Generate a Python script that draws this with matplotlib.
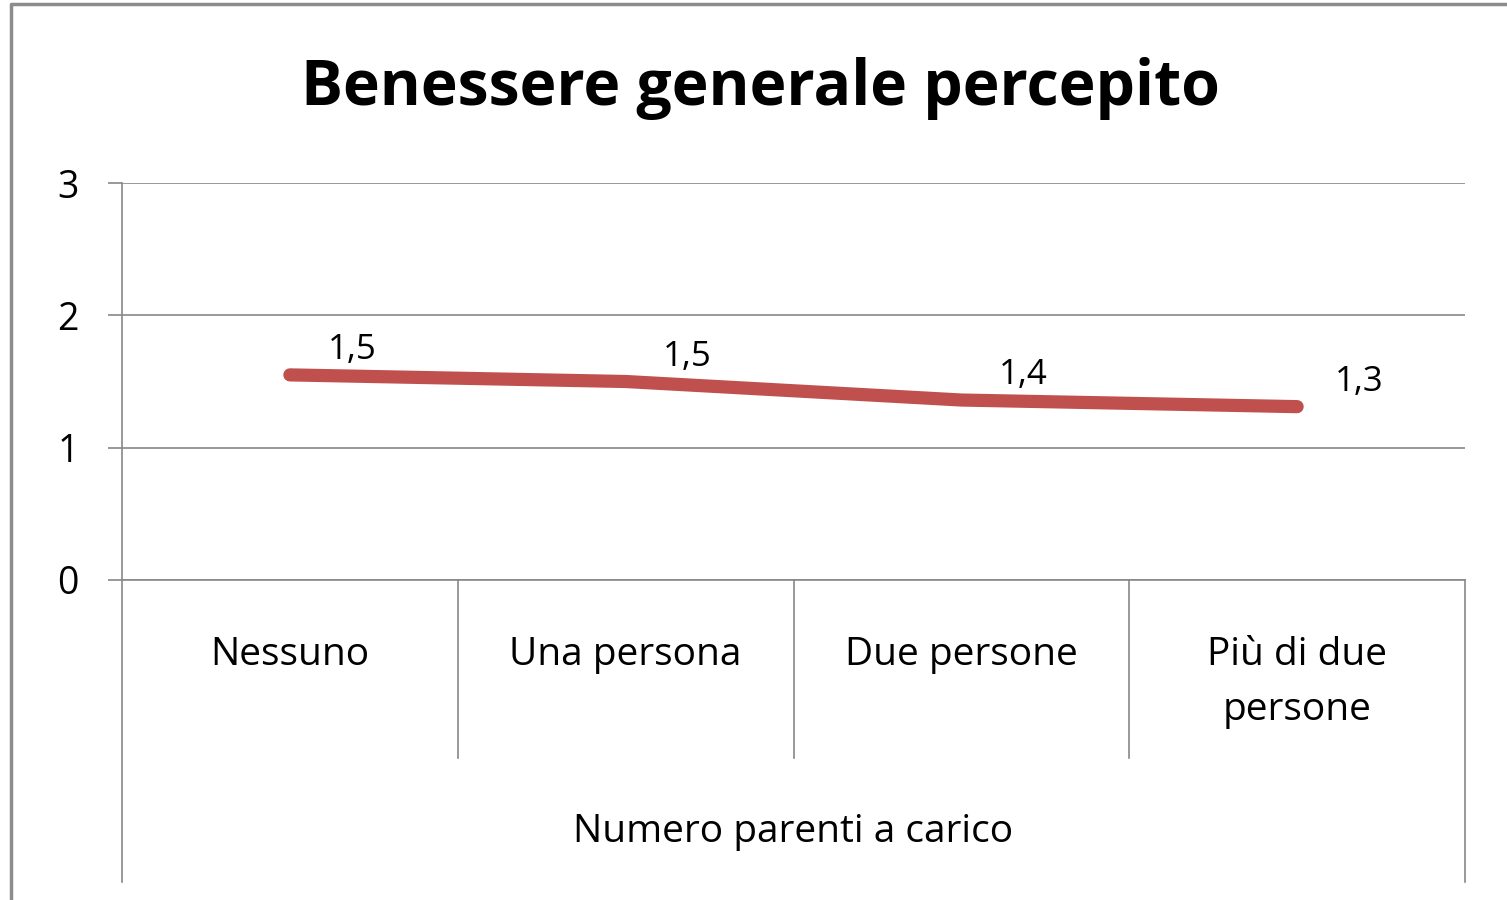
import matplotlib.pyplot as plt
from matplotlib.lines import Line2D

categorie = ['Nessuno', 'Una persona', 'Due persone', 'Più di due\npersone']
valori = [1.55, 1.50, 1.36, 1.31]
etichette = ['1,5', '1,5', '1,4', '1,3']
yticks = [0, 1, 2, 3]

plt.rcParams['font.family'] = ['Open Sans', 'DejaVu Sans']

fig = plt.figure(figsize=(15.07, 9), dpi=100)
W, H = 1507, 900
ax = fig.add_axes([122 / W, 1 - 580 / H, (1465 - 122) / W, (580 - 183) / H])

x = list(range(len(categorie)))
ax.plot(x, valori, color='#C0504D', lw=9.5, solid_capstyle='round', solid_joinstyle='round', zorder=3)
for xi, v, t in zip(x, valori, etichette):
    ax.annotate(t, (xi, v), xytext=(62, 25), textcoords='offset pixels',
                ha='center', va='center', fontsize=25, color='black')

ax.set_xlim(-0.5, len(categorie) - 0.5)
ax.set_ylim(0, 3)
ax.set_yticks(yticks)
ax.set_yticklabels([str(t) for t in yticks], fontsize=27)
ax.tick_params(axis='y', length=10, color='#888888', pad=21, width=1.2)
ax.set_xticks([])
ax.yaxis.grid(True, color='#888888', lw=1.2)
for s in ['top', 'right', 'bottom']:
    ax.spines[s].set_visible(False)
ax.spines['left'].set_color('#888888')
ax.spines['left'].set_linewidth(1.2)

# asse categorie con divisori
gray = '#888888'
fig.add_artist(Line2D([122 / W, 1465 / W], [1 - 580 / H] * 2, color=gray, lw=1.2))
for i in range(len(categorie) + 1):
    xp = (122 + i * (1465 - 122) / len(categorie)) / W
    bottom = 882 if i in (0, len(categorie)) else 758
    fig.add_artist(Line2D([xp, xp], [1 - 580 / H, 1 - bottom / H], color=gray, lw=1.2))
for i, c in enumerate(categorie):
    xc = (122 + (i + 0.5) * (1465 - 122) / len(categorie)) / W
    fig.text(xc, 1 - 636 / H, c, ha='center', va='top', fontsize=28, linespacing=1.6)
fig.text(793 / W, 1 - 832 / H, 'Numero parenti a carico', ha='center', va='center', fontsize=28)

fig.text(760 / W, 1 - 89 / H, 'Benessere generale percepito', ha='center', va='center',
         fontsize=45, fontweight='bold')

# cornice
fig.add_artist(Line2D([11 / W, 11 / W, 1], [0, 1 - 4 / H, 1 - 4 / H], color='#8c8c8c', lw=2.5))

fig.savefig('out.png', dpi=100)
